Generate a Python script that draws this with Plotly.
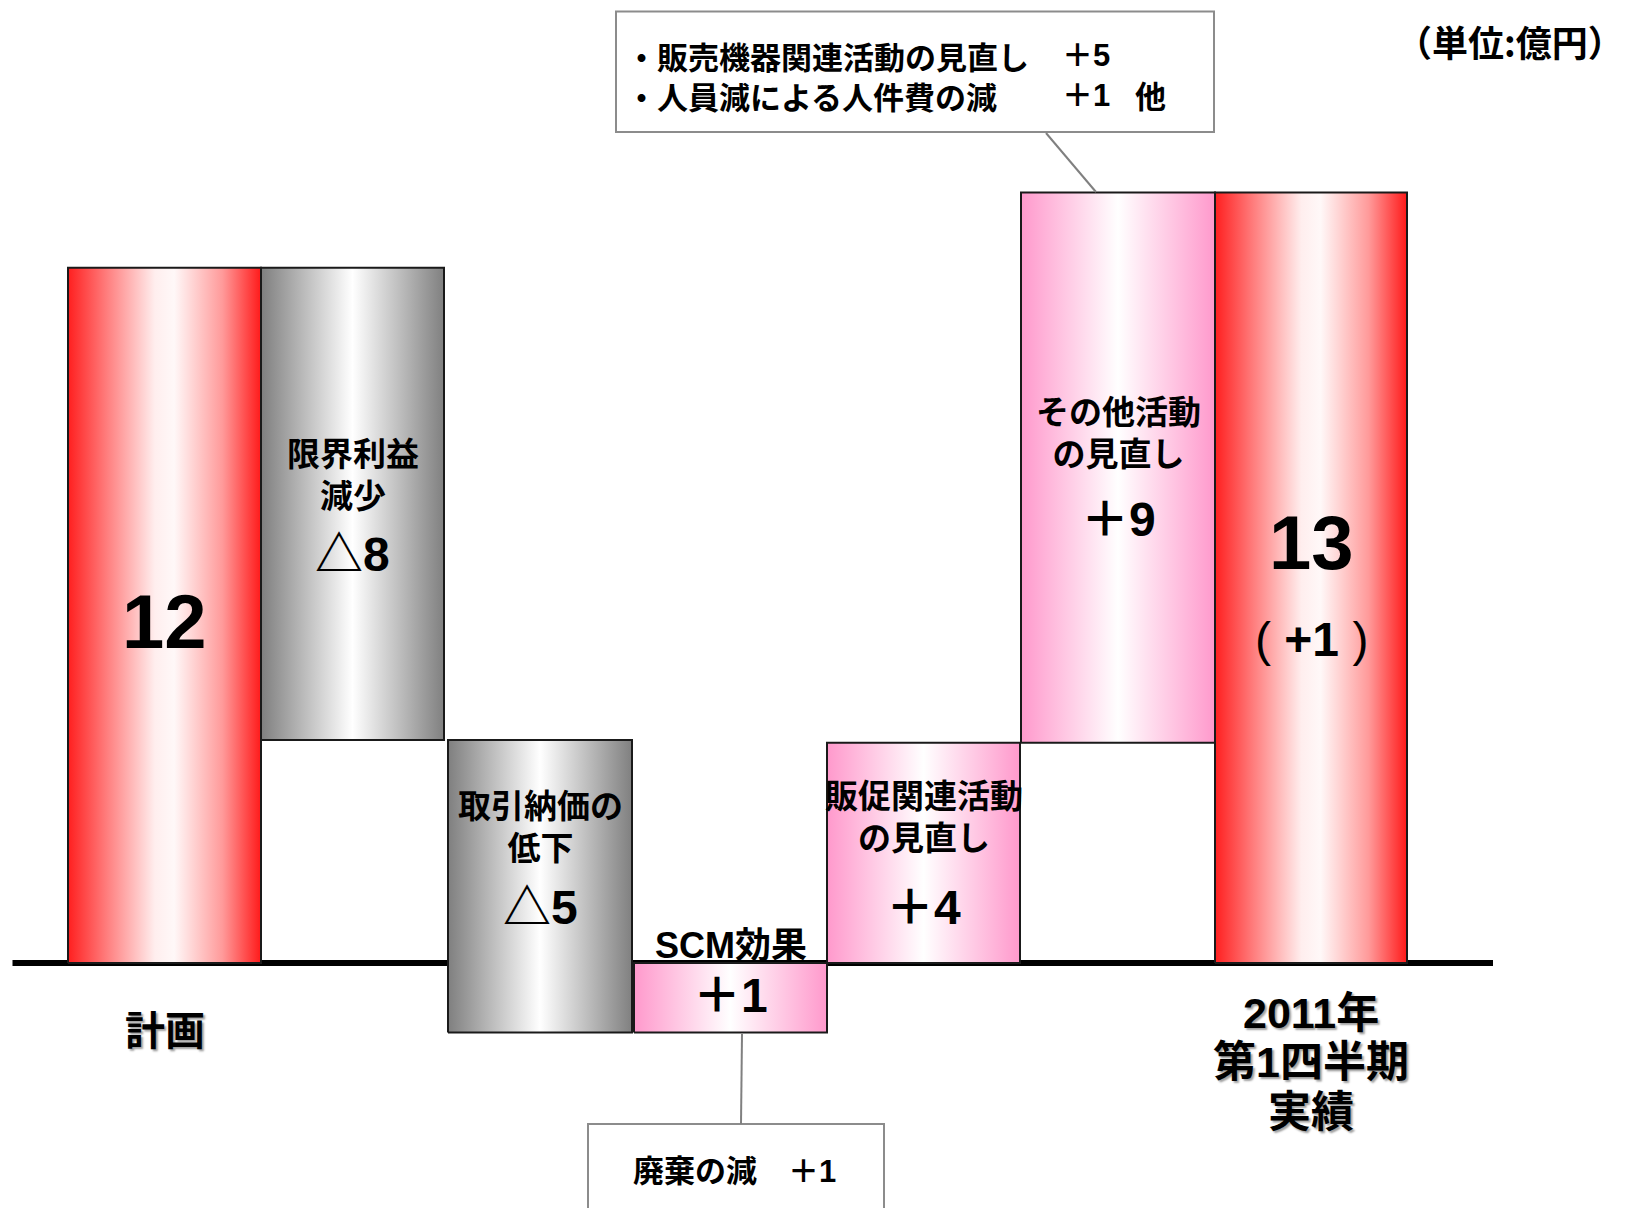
import plotly.graph_objects as go

# ---------------- data ----------------
categories = ["計画", "限界利益減少", "取引納価の低下", "SCM効果",
              "販促関連活動の見直し", "その他活動の見直し", "2011年第1四半期実績"]
plan_value = 12.0
deltas = [-8.15, -5.05, 1.2, 3.8, 9.5]
actual_value = 13.3
value_labels = ["12", "△8", "△5", "＋1", "＋4", "＋9", "13"]
actual_diff_label = "+1"
bar_kinds = ["total", "down", "down", "up", "up", "up", "total"]
bar_titles = [None, "限界利益<br>減少", "取引納価の<br>低下", "SCM効果",
              "販促関連活動<br>の見直し", "その他活動<br>の見直し", None]
unit_label = "（単位:億円）"
callout_top_items = ["・販売機器関連活動の見直し", "・人員減による人件費の減"]
callout_top_values = ["＋5", "＋1"]
callout_top_other = "他"
callout_bottom_text = "廃棄の減　＋1"
cat_label_plan = "計画"
cat_label_actual = ["2011年", "第1四半期", "実績"]

# ---------------- geometry / style ----------------
W, H = 1629, 1208
BASE_PX, DY_PX = 963.0, 57.94              # pixel row of y=0, pixels per unit
bar_left = [68, 261, 448, 634, 827, 1021, 1215]   # horizontal layout (px)
bar_right = [261, 444, 632, 827, 1020, 1215, 1407]
centers = [(a + b) / 2 for a, b in zip(bar_left, bar_right)]

def PY(y):
    return 1 - y / H

y_range = [-(H - BASE_PX) / DY_PX, BASE_PX / DY_PX]

gradients = {
    "total": [[0, "#ff1f1f"], [0.2, "#ff7d7d"], [0.45, "#ffeeee"], [0.55, "#fff8f8"],
              [0.8, "#ff9a9a"], [1, "#ff1a1a"]],
    "down": [[0, "#7f7f7f"], [0.5, "#ffffff"], [1, "#808080"]],
    "up": [[0, "#ff99cc"], [0.5, "#ffffff"], [1, "#ff99cc"]],
}

# waterfall spans from data
spans = [(0.0, plan_value)]
running = plan_value
for d in deltas:
    new = running + d
    spans.append((min(running, new), max(running, new)))
    running = new
spans.append((0.0, actual_value))

fig = go.Figure()
for i, ((lo, hi), kind) in enumerate(zip(spans, bar_kinds)):
    xl, xr = bar_left[i], bar_right[i]
    fig.add_trace(go.Scatter(
        x=[xl, xr, xr, xl, xl], y=[lo, lo, hi, hi, lo],
        mode="lines", fill="toself",
        fillgradient=dict(type="horizontal", colorscale=gradients[kind]),
        line=dict(color="#1a1a1a", width=2),
        hoverinfo="skip", showlegend=False, name=categories[i],
    ))

shapes = [
    dict(type="line", xref="x", yref="y", x0=12.5, x1=1493, y0=0, y1=0,
         line=dict(color="black", width=6), layer="below"),
    dict(type="rect", xref="x", yref="paper", x0=616, x1=1214, y0=PY(11.5), y1=PY(132),
         line=dict(color="#8c8c8c", width=2), fillcolor="white"),
    dict(type="line", xref="x", yref="paper", x0=1046, y0=PY(133), x1=1096, y1=PY(192),
         line=dict(color="#808080", width=2)),
    dict(type="rect", xref="x", yref="paper", x0=588, x1=884, y0=PY(1124), y1=PY(1220),
         line=dict(color="#8c8c8c", width=2), fillcolor="white"),
    dict(type="line", xref="x", yref="paper", x0=742, y0=PY(1034), x1=741, y1=PY(1124),
         line=dict(color="#808080", width=2)),
]

JP = "Noto Sans CJK JP"
NUM = "Liberation Sans, Noto Sans CJK JP"
ann = []

def add(text, x, ypx, size, family=JP, weight="bold", shadow=None, xanchor="center",
        align="center", height=None):
    f = dict(family=family, size=size, color="black", weight=weight)
    if shadow:
        f["shadow"] = shadow
    a = dict(text=text, x=x, y=PY(ypx), xref="x", yref="paper",
             showarrow=False, font=f, xanchor=xanchor, yanchor="middle",
             align=align)
    if height:
        a["height"] = height
    ann.append(a)

# bar titles (two-line labels)
title_y = {1: 473, 2: 825, 3: 945, 4: 815, 5: 431}
for i, t in enumerate(bar_titles):
    if t:
        if i == 3:
            add(t, centers[i], title_y[i], 36, NUM, height=42)
        else:
            add(t, centers[i], title_y[i], 33, JP, height=82)

# value labels
value_y = [621, 554, 907, 995, 907, 519, 542]
value_size = [76, 48, 48, 48, 48, 48, 76]
for i, v in enumerate(value_labels):
    add(v, centers[i], value_y[i], value_size[i], NUM,
        height=None if value_size[i] > 60 else 52)
add("( <b>" + actual_diff_label + "</b> )", centers[6], 639, 48, NUM, "normal")

# category labels
sh = "2px 2px 2px #a0a0a0"
add(cat_label_plan, centers[0], 1028, 40, shadow=sh)
for txt, yy in zip(cat_label_actual, [1013, 1062, 1112]):
    add(txt, centers[6], yy, 43, NUM, shadow=sh)

# callouts
add("<br>".join(callout_top_items), 624, 75, 31, xanchor="left", align="left")
add("<br>".join(callout_top_values), 1060, 75, 31, NUM, xanchor="left", align="left")
add(callout_top_other, 1133, 95, 31, xanchor="left")
add(callout_bottom_text, 734, 1171, 31, NUM)
add(unit_label, 1626, 41, 36, xanchor="right")

fig.update_layout(
    width=W, height=H, autosize=False,
    margin=dict(l=0, r=0, t=0, b=0),
    paper_bgcolor="white", plot_bgcolor="white",
    xaxis=dict(range=[0, W], visible=False, fixedrange=True),
    yaxis=dict(range=y_range, visible=False, fixedrange=True),
    shapes=shapes, annotations=ann, showlegend=False,
)

fig.write_html("out.html")
